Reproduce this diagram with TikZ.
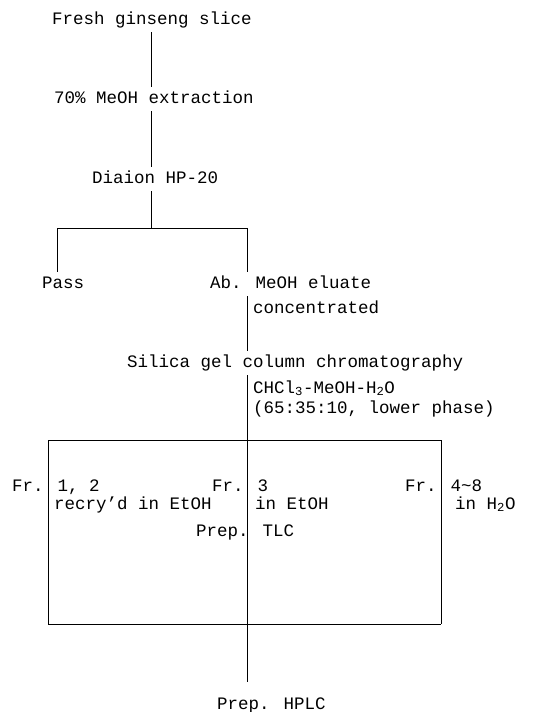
\documentclass[tikz,border=0pt]{standalone}
\usepackage{fontspec}
\setmainfont{Liberation Mono}
\usepackage{tikz}
\usetikzlibrary{positioning,calc}

\begin{document}
\begin{tikzpicture}[x=1pt,y=-1pt,
  lbl/.style={anchor=base west,inner xsep=0pt,inner ysep=4pt,
    text height=12pt,text depth=4pt,font=\fontsize{17.5}{20}\selectfont},
  ln/.style={draw=black,line width=0.7pt}]
  \useasboundingbox (0,0) rectangle (541,712);
  % extraction
  \node[lbl] (fresh)  at (52,24)   {Fresh ginseng slice};
  \node[lbl] (extr)   at (54,103)  {70\% MeOH extraction};
  \node[lbl] (diaion) at (92,183)  {Diaion HP-20};
  % first split
  \node[lbl] (pass)   at (42,288)  {Pass};
  \node[lbl] (eluate) at (210,288) {Ab. MeOH eluate};
  \node[lbl] (conc)   at (253,313) {concentrated};
  % column
  \node[lbl] (silica) at (127,367) {Silica gel column chromatography};
  \node[lbl] (solv)   at (253,393) {CHCl\textsubscript{3}-MeOH-H\textsubscript{2}O};
  \node[lbl] (ratio)  at (253,413) {(65:35:10, lower phase)};
  % fractions
  \node[lbl] (frA)    at (12,491)  {Fr. 1, 2};
  \node[lbl] (frB)    at (212,491) {Fr. 3};
  \node[lbl] (frC)    at (405,491) {Fr. 4\textasciitilde8};
  \node[lbl] (recry)  at (54,509)  {recry'd in EtOH};
  \node[lbl] (etoh)   at (255,509) {in EtOH};
  \node[lbl] (water)  at (455,509) {in H\textsubscript{2}O};
  \node[lbl] (tlc)    at (196,536) {Prep. TLC};
  \node[lbl] (hplc)   at (217,709) {Prep. HPLC};
  % branch points
  \coordinate (spine) at (151,228);
  \coordinate (barAl) at (57,228);
  \coordinate (barAr) at (247.5,228);
  \coordinate (barBl) at (48,440);
  \coordinate (barBm) at (247.5,440);
  \coordinate (barBr) at (441,440);
  \coordinate (barCl) at (48,624);
  \coordinate (barCm) at (247.5,624);
  \coordinate (barCr) at (441,624);
  % connectors
  \draw[ln] (fresh.south -| spine) -- (extr.north -| spine);
  \draw[ln] (extr.south -| spine) -- (diaion.north -| spine);
  \draw[ln] (diaion.south -| spine) -- (spine);
  \draw[ln] (pass.north -| barAl) -- (barAl) -- (barAr) -- (eluate.north -| barAr);
  \draw[ln] (eluate.south -| barAr) -- (silica.north -| barAr);
  \draw[ln] (silica.south -| barAr) -- (barBm);
  \draw[ln] (barBl) -- (barBr);
  \foreach \t in {l,m,r}
    \draw[ln] (barB\t) -- (barC\t);
  \draw[ln] (barCl) -- (barCr);
  \draw[ln,shorten >=11pt] (barCm) -- (hplc.north -| barCm);
\end{tikzpicture}
\end{document}
